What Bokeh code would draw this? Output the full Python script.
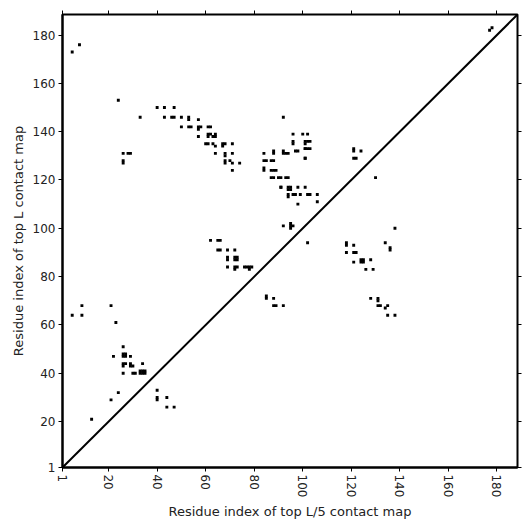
import math
from bokeh.plotting import figure
from bokeh.models import ColumnDataSource, FixedTicker, LinearAxis, Range1d
from bokeh.embed import file_html
from bokeh.resources import INLINE

# Residue index pairs (top L/5 contact map index, top L contact map index)
contact_x = [
    5, 8, 177, 178,
    24, 33, 26, 26, 26, 28, 29,
    40, 43, 47, 43, 46, 47, 50, 53, 53, 57, 50, 53, 54, 57, 57, 58, 61, 62,
    57, 61, 61, 62, 63, 64, 64, 60, 61, 63, 64, 67, 68, 67, 71,
    64, 68, 68, 71, 68, 68, 70, 71, 74, 71,
    92, 96, 100, 102, 84, 85, 84, 84, 87, 88, 88, 88, 87, 88, 89, 87, 88,
    90, 91, 84, 92, 92, 93, 94, 96, 96, 97, 98, 101, 102, 103, 101, 101, 101, 102, 103, 101, 101,
    91, 91, 94, 95, 94, 95, 98, 101, 94, 94, 96, 97, 99, 102, 103, 98, 106, 106, 93, 94,
    62, 65, 66, 65, 66, 69, 72, 69, 69, 72, 73, 72, 73, 69, 72, 73, 72,
    76, 77, 78, 79, 78,
    92, 95, 96, 95, 95, 102,
    85, 85, 88, 88, 89, 92,
    118, 118, 121, 118, 121, 122, 121, 124, 124, 125, 125, 128, 126, 129,
    130, 121, 121, 121, 122, 124, 134, 138, 136, 136,
    128, 131, 131, 131, 132, 134, 135, 135, 138,
    5, 9, 9, 21, 23, 13,
    22, 26, 26, 27, 26, 27, 29, 26, 26, 27, 29, 30, 29, 34,
    26, 30, 31, 33, 34, 35, 33, 34, 35,
    24, 21, 40, 40, 40, 44, 44, 47,
]
contact_y = [
    173, 176, 182, 183,
    153, 146, 131, 128, 127, 131, 131,
    150, 150, 150, 146, 146, 146, 146, 146, 145, 145, 142, 142, 142, 142, 141, 142, 142, 142,
    138, 139, 138, 139, 138, 138, 139, 135, 135, 135, 134, 135, 135, 134, 135,
    131, 131, 130, 131, 128, 127, 128, 127, 127, 124,
    146, 139, 139, 139, 128, 128, 125, 124, 128, 128, 131, 132, 124, 124, 124, 121, 121,
    121, 121, 131, 132, 131, 131, 131, 135, 136, 132, 132, 136, 136, 136, 135, 133, 133, 133, 133, 129, 129,
    117, 117, 117, 117, 116, 116, 117, 117, 114, 113, 114, 114, 114, 114, 114, 110, 114, 111, 121, 121,
    95, 95, 95, 91, 91, 91, 91, 88, 87, 88, 88, 87, 87, 84, 84, 84, 83,
    84, 84, 84, 84, 83,
    101, 101, 101, 102, 100, 94,
    72, 71, 71, 68, 68, 68,
    94, 93, 93, 90, 90, 90, 86, 87, 86, 87, 86, 87, 83, 83,
    121, 133, 132, 129, 129, 132, 94, 100, 91, 92,
    71, 71, 70, 68, 68, 67, 68, 64, 64,
    64, 64, 68, 68, 61, 21,
    47, 51, 48, 48, 47, 47, 47, 44, 43, 44, 44, 43, 43, 44,
    40, 40, 40, 41, 41, 41, 40, 40, 40,
    32, 29, 33, 30, 29, 30, 26, 26,
]

tick_values = [1, 20, 40, 60, 80, 100, 120, 140, 160, 180]
axis_min, axis_max = 1, 188.5
diag = [axis_min, axis_max]

src = ColumnDataSource(data=dict(x=contact_x, y=contact_y))

p = figure(width=531, height=531, output_backend="svg", toolbar_location=None,
           x_range=Range1d(axis_min, axis_max), y_range=Range1d(axis_min, axis_max),
           min_border_left=62, min_border_right=14, min_border_top=14, min_border_bottom=64,
           x_axis_label="Residue index of top L/5 contact map",
           y_axis_label="Residue index of top L contact map")
p.grid.visible = False
p.outline_line_color = "black"
p.outline_line_width = 2
p.background_fill_color = "white"
p.border_fill_color = "white"

p.line(diag, diag, line_color="black", line_width=2)
p.rect(x="x", y="y", width=1.2, height=1.2, source=src, fill_color="black",
       line_color=None)

for ax in [p.xaxis[0], p.yaxis[0]]:
    ax.ticker = FixedTicker(ticks=tick_values)
    ax.axis_line_color = "black"
    ax.axis_line_width = 2
    ax.major_tick_line_color = "black"
    ax.major_tick_line_width = 1
    ax.major_tick_out = 4
    ax.major_tick_in = 0
    ax.minor_tick_line_color = None
    ax.major_label_text_font = "DejaVu Sans"
    ax.major_label_text_font_size = "12px"
    ax.major_label_text_color = "#222222"
    ax.axis_label_text_font = "DejaVu Sans"
    ax.axis_label_text_font_size = "13px"
    ax.axis_label_text_font_style = "normal"
    ax.axis_label_text_color = "#222222"
    ax.major_label_standoff = 3
    ax.axis_label_standoff = 4

p.xaxis[0].major_label_orientation = -math.pi / 2

for loc in ["above", "right"]:
    ax = LinearAxis(ticker=FixedTicker(ticks=tick_values))
    ax.axis_line_color = None
    ax.major_tick_line_color = "black"
    ax.major_tick_out = 4
    ax.major_tick_in = 0
    ax.minor_tick_line_color = None
    ax.major_label_overrides = {v: "" for v in tick_values}
    ax.major_label_standoff = 0
    p.add_layout(ax, loc)

open("out.html", "w").write(file_html(p, INLINE))
